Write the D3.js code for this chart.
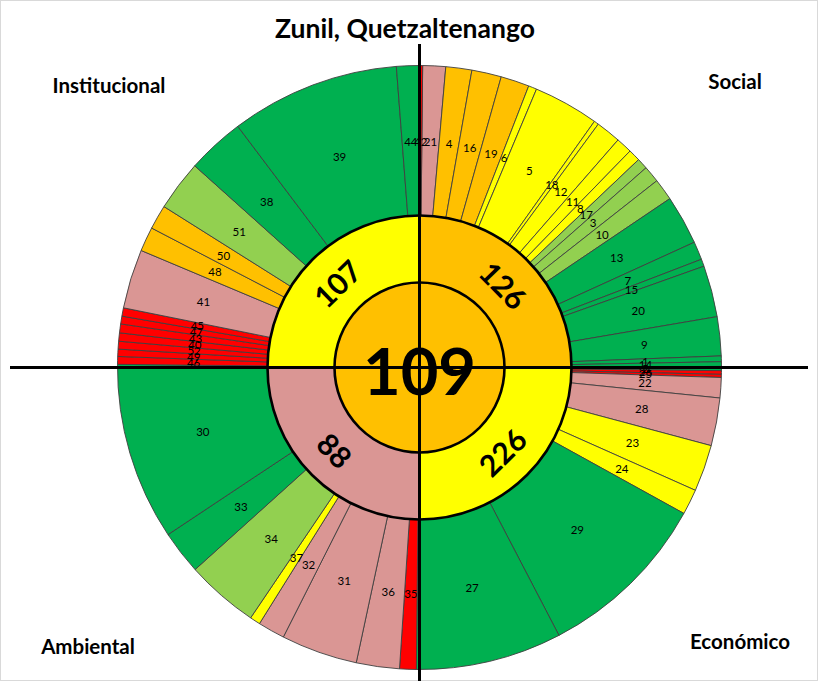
<!DOCTYPE html>
<html><head><meta charset="utf-8">
<script src="https://cdn.jsdelivr.net/npm/d3@7"></script>
<style>body{margin:0;background:#fff} svg{display:block}</style>
</head><body><svg id="c" width="818" height="681"></svg>
<script>
// ---- data ----
const titulo = "Zunil, Quetzaltenango";
const indiceTotal = 109;
const dimensiones = ["Social", "Económico", "Ambiental", "Institucional"];
const puntajeDimension = [126, 226, 88, 107];
const estadoDimension = ["naranja", "amarillo", "rosa", "amarillo"];

const indicadoresSocial = ["21","4","16","19","6","5","18","12","11","8","17","3","10","13","7","15","20","9","1","14","2"];
const valoresSocial = [4.4,5.0,5.7,5.5,1.6,12.6,0.9,4.8,3.1,2.3,2.1,3.2,4.2,9.5,3.5,1.4,9.9,7.5,1.1,0.9,0.8];
const estadosSocial = ["rosa","naranja","naranja","naranja","amarillo","amarillo","amarillo","amarillo","amarillo","amarillo","verdeClaro","verdeClaro","verdeClaro","verde","verde","verde","verde","verde","verde","verde","verde"];

const indicadoresEconomico = ["26","25","22","28","23","24","29","27"];
const valoresEconomico = [0.7,0.6,3.9,9.2,9.0,4.9,33.6,28.1];
const estadosEconomico = ["rojo","rojo","rosa","rosa","amarillo","amarillo","verde","verde"];

const indicadoresAmbiental = ["35","36","31","32","37","34","33","30"];
const valoresAmbiental = [3.2,8.3,14.7,5.2,2.0,14.0,8.4,34.2];
const estadosAmbiental = ["rojo","rosa","rosa","rosa","amarillo","verdeClaro","verde","verde"];

const indicadoresInstitucional = ["46","49","52","40","43","47","45","41","48","50","51","38","39","44","42"];
const valoresInstitucional = [1.5,1.4,1.5,1.6,1.7,1.5,1.6,11.4,4.7,4.7,9.7,11.1,32.6,4.4,0.6];
const estadosInstitucional = ["rojo","rojo","rojo","rojo","rojo","rojo","rojo","rosa","naranja","naranja","verdeClaro","verde","verde","verde","rojo"];

// ---- styles ----
const colores = {verde:"#00B050", verdeClaro:"#92D050", amarillo:"#FFFF00", naranja:"#FFC000", rosa:"#DA9694", rojo:"#FF0000"};
const W = 818, H = 681, cx = 419.5, cy = 367.5;
const r0 = 85, r1 = 152, r2 = 302;
const rot = 0.6 * Math.PI / 180;
const FONT = "Lato, 'Open Sans', sans-serif";

const ids = [indicadoresSocial, indicadoresEconomico, indicadoresAmbiental, indicadoresInstitucional];
const vals = [valoresSocial, valoresEconomico, valoresAmbiental, valoresInstitucional];
const ests = [estadosSocial, estadosEconomico, estadosAmbiental, estadosInstitucional];

const data = {name: "root", children: dimensiones.map((d, i) => ({
  name: d, score: puntajeDimension[i], estado: estadoDimension[i],
  children: ids[i].map((id, j) => ({name: id, value: vals[i][j], estado: ests[i][j]}))
}))};
const root = d3.hierarchy(data).sum(d => d.value || 0);
d3.partition().size([2 * Math.PI, 3])(root);

const svg = d3.select("#c");
svg.append("rect").attr("x", 0.5).attr("y", 0.5).attr("width", W - 1).attr("height", H - 1)
  .attr("fill", "#fff").attr("stroke", "#d9d9d9");

const g = svg.append("g").attr("transform", `translate(${cx},${cy})`);

const arcOuter = d3.arc().startAngle(d => d.x0 + rot).endAngle(d => d.x1 + rot)
  .innerRadius(r1).outerRadius(r2);
const arcInner = d3.arc().startAngle(d => d.x0 + rot).endAngle(d => d.x1 + rot)
  .innerRadius(r0).outerRadius(r1);

const leaves = root.descendants().filter(d => d.depth === 2);
const dims = root.descendants().filter(d => d.depth === 1);

g.selectAll("path.leaf").data(leaves).join("path").attr("class", "leaf")
  .attr("d", arcOuter).attr("fill", d => colores[d.data.estado])
  .attr("stroke", "#404040").attr("stroke-width", 0.9);

g.selectAll("path.dim").data(dims).join("path").attr("class", "dim")
  .attr("d", arcInner).attr("fill", d => colores[d.data.estado]).attr("stroke", "none");

g.append("circle").attr("r", r1).attr("fill", "none").attr("stroke", "#000").attr("stroke-width", 2.6);

// axis cross
svg.append("line").attr("x1", cx).attr("x2", cx).attr("y1", 44).attr("y2", H)
  .attr("stroke", "#000").attr("stroke-width", 3);
svg.append("line").attr("x1", 10).attr("x2", 808).attr("y1", cy).attr("y2", cy)
  .attr("stroke", "#000").attr("stroke-width", 3);

// center
g.append("circle").attr("r", r0).attr("fill", colores.naranja).attr("stroke", "#000").attr("stroke-width", 2.6);
g.append("text").attr("text-anchor", "middle").attr("dominant-baseline", "central")
  .attr("y", 2).attr("font-family", FONT).attr("font-weight", "bold").attr("font-size", 65)
  .text(indiceTotal);

// leaf labels
const rl = 226;
g.selectAll("text.leafLbl").data(leaves).join("text").attr("class", "leafLbl")
  .attr("x", d => rl * Math.sin((d.x0 + d.x1) / 2 + rot))
  .attr("y", d => -rl * Math.cos((d.x0 + d.x1) / 2 + rot))
  .attr("text-anchor", "middle").attr("dominant-baseline", "central")
  .attr("font-family", FONT).attr("font-size", 11.5).attr("fill", "#000")
  .text(d => d.data.name);

// dimension score labels
const ri = 118;
g.selectAll("text.dimLbl").data(dims).join("text").attr("class", "dimLbl")
  .attr("transform", d => {
    const a = (d.x0 + d.x1) / 2 + rot;
    let deg = a * 180 / Math.PI;
    if (deg > 90 && deg < 270) deg -= 180;
    return `translate(${ri * Math.sin(a)},${-ri * Math.cos(a)}) rotate(${deg})`;
  })
  .attr("text-anchor", "middle").attr("dominant-baseline", "central")
  .attr("font-family", FONT).attr("font-weight", "bold").attr("font-size", 30)
  .text(d => d.data.score);

// title and corner labels
svg.append("text").attr("x", 405).attr("y", 28).attr("text-anchor", "middle").attr("dominant-baseline", "central")
  .attr("font-family", FONT).attr("font-weight", "bold").attr("font-size", 26.5).text(titulo);
const esquinas = [[735, 81], [740, 641], [88, 646], [109, 85]];
dimensiones.forEach((d, i) => {
  svg.append("text").attr("x", esquinas[i][0]).attr("y", esquinas[i][1])
    .attr("text-anchor", "middle").attr("dominant-baseline", "central")
    .attr("font-family", FONT).attr("font-weight", "bold").attr("font-size", 20.5).text(d);
});
</script></body></html>
